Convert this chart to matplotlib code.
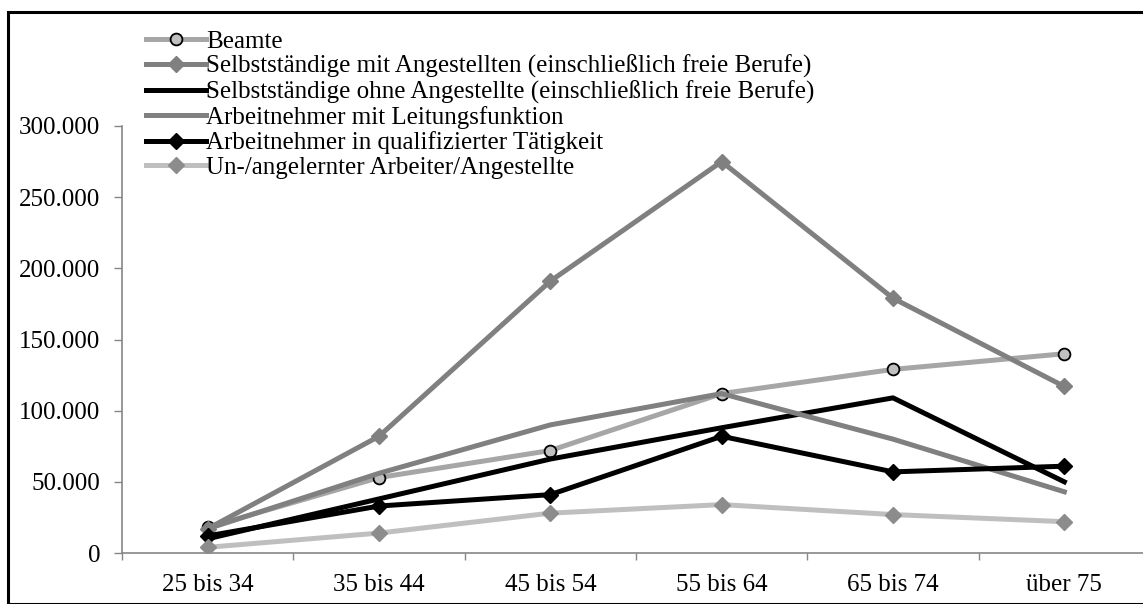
import matplotlib
matplotlib.use("Agg")
import matplotlib.pyplot as plt
from matplotlib.patches import Rectangle
from matplotlib.ticker import FuncFormatter

categories = ["25 bis 34", "35 bis 44", "45 bis 54", "55 bis 64", "65 bis 74", "über 75"]
beamte = [18000, 53000, 72000, 112000, 129000, 140000]
selbst_mit = [17000, 82000, 191000, 275000, 179000, 117000]
selbst_ohne = [10000, 38000, 66000, 88000, 109000, 50000]
leitung = [17000, 56000, 90000, 112000, 80000, 43000]
qualifiziert = [12000, 33000, 41000, 82000, 57000, 61000]
angelernt = [4000, 14000, 28000, 34000, 27000, 22000]
labels = [
    "Beamte",
    "Selbstständige mit Angestellten (einschließlich freie Berufe)",
    "Selbstständige ohne Angestellte (einschließlich freie Berufe)",
    "Arbeitnehmer mit Leitungsfunktion",
    "Arbeitnehmer in qualifizierter Tätigkeit",
    "Un-/angelernter Arbeiter/Angestellte",
]
yticks = [0, 50000, 100000, 150000, 200000, 250000, 300000]

plt.rcParams['font.family'] = ['Liberation Serif', 'DejaVu Serif']
FS = 18

W, H = 1143, 604
fig = plt.figure(figsize=(W / 100, H / 100), dpi=100)
ax = fig.add_axes([122 / W, (H - 553) / H, (1150 - 122) / W, (553 - 126) / H])

x = list(range(len(categories)))
lw = 3.6
ms = 8.5
ax.plot(x, beamte, color="#A6A6A6", lw=lw, marker="o", markersize=ms,
        markerfacecolor="#C0C0C0", markeredgecolor="black", markeredgewidth=1.3, label=labels[0], zorder=3)
ax.plot(x, selbst_mit, color="#808080", lw=lw, marker="D", markersize=ms - 0.5,
        markerfacecolor="#808080", markeredgecolor="#808080", label=labels[1], zorder=3)
ax.plot(x, selbst_ohne, color="black", lw=lw, label=labels[2], zorder=3)
ax.plot(x, leitung, color="#808080", lw=lw, label=labels[3], zorder=3)
ax.plot(x, qualifiziert, color="black", lw=lw, marker="D", markersize=ms - 0.5,
        markerfacecolor="black", markeredgecolor="black", label=labels[4], zorder=3)
ax.plot(x, angelernt, color="#BFBFBF", lw=lw, marker="D", markersize=ms - 0.5,
        markerfacecolor="#8C8C8C", markeredgecolor="#8C8C8C", label=labels[5], zorder=3)

ax.set_xlim(-0.5, len(categories) - 0.5)
ax.set_ylim(0, 300000)
ax.set_yticks(yticks)
ax.yaxis.set_major_formatter(FuncFormatter(lambda v, p: f"{int(v):,}".replace(",", ".")))
ax.set_xticks([i + 0.5 for i in range(-1, len(categories))], minor=False)
ax.set_xticks(x, minor=True)
ax.set_xticklabels([])
ax.set_xticklabels(categories, minor=True)
ax.tick_params(axis="x", which="major", length=5, width=1, color="#868686", direction="out")
ax.tick_params(axis="x", which="minor", length=0, labelsize=FS, pad=15)
ax.tick_params(axis="y", length=5.8, width=1, color="#868686", labelsize=FS, pad=10)

for s in ["top", "right"]:
    ax.spines[s].set_visible(False)
for s in ["left", "bottom"]:
    ax.spines[s].set_color("#868686")
    ax.spines[s].set_linewidth(1.2)

leg = ax.legend(loc="upper left", bbox_to_anchor=(146 / W, 1 - 30 / H), bbox_transform=fig.transFigure,
                frameon=False, fontsize=FS, handlelength=2.4, handletextpad=0.0,
                labelspacing=0.09, borderaxespad=0, borderpad=0)

border = Rectangle((8 / W, 0), 2, (H - 12) / H, transform=fig.transFigure, fill=False,
                   edgecolor="black", linewidth=2.2, clip_on=False)
fig.patches.append(border)

fig.savefig("out.png", dpi=100)
